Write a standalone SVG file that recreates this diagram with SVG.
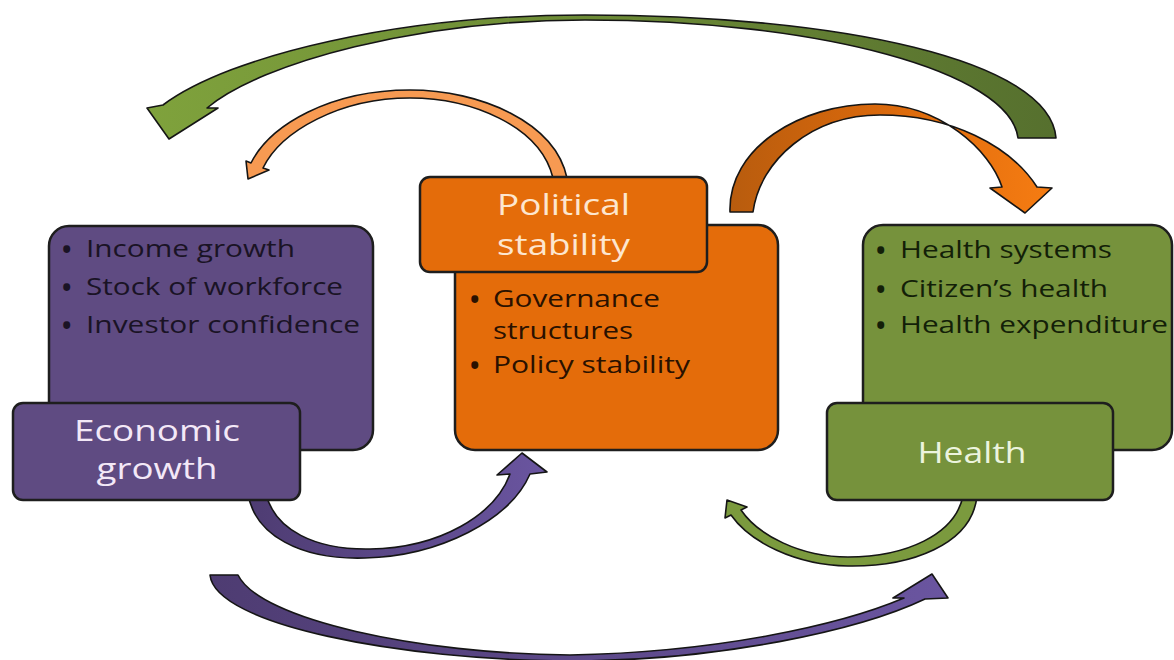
<svg xmlns="http://www.w3.org/2000/svg" width="1174" height="660" viewBox="0 0 1174 660">
  <style>
    .box { stroke: #1e1e1e; stroke-width: 2.5; }
    .purple { fill: #5f4b82; }
    .orange { fill: #e46c0a; }
    .green { fill: #76923c; }
    .arrow { stroke: #151515; stroke-width: 1.6; stroke-linejoin: round; }
    .item { font-family: "Open Sans", Lato, "Liberation Sans", sans-serif; font-size: 23px; }
    .dot { font-family: "Open Sans", Lato, "Liberation Sans", sans-serif; font-size: 25px; font-weight: bold; }
    .title { font-family: "Open Sans", Lato, "Liberation Sans", sans-serif; font-size: 30px; text-anchor: middle; }
    .dk-purple { fill: #1a1325; }
    .dk-orange { fill: #2a1100; }
    .dk-green { fill: #131f08; }
  </style>
  <defs>
    <linearGradient id="gTopGreen" x1="0" y1="0" x2="1" y2="0">
      <stop offset="0" stop-color="#7fa23c"/>
      <stop offset="0.5" stop-color="#6c8a36"/>
      <stop offset="1" stop-color="#56702e"/>
    </linearGradient>
    <linearGradient id="gDarkOrange" x1="0" y1="0" x2="1" y2="0">
      <stop offset="0" stop-color="#b85c0e"/>
      <stop offset="0.45" stop-color="#d8680c"/>
      <stop offset="1" stop-color="#f67c12"/>
    </linearGradient>
    <linearGradient id="gPurple" x1="0" y1="0" x2="1" y2="0">
      <stop offset="0" stop-color="#4e3c72"/>
      <stop offset="1" stop-color="#6a55a0"/>
    </linearGradient>
  </defs>

  <!-- connectors -->
  <g id="connectors">
    <!-- Health back to Economic growth (top sweep) -->
    <path class="arrow" fill="url(#gTopGreen)" d="M1056,138 C1050,60 840,15 585,15 C400,15 230,55 163,105 L147,108 L169,139 L218,108 L207,108 C262,62 420,20 585,20 C820,20 1010,72 1018,138 Z"/>
    <!-- Political stability to Economic growth -->
    <path class="arrow" fill="#f79a52" stroke="#6a3510" d="M567,178 C555,122 480,90 410,90 C330,90 270,125 251,163 L246,161 L248,179 L269,170 L263,168 C281,131 340,98 410,98 C470,98 540,125 553,178 Z"/>
    <!-- Political stability to Health -->
    <path class="arrow" fill="url(#gDarkOrange)" d="M730,212 C728,148 800,104 875,104 C940,104 990,150 1002,187 L990,188 L1025,213 L1052,188 L1037,187 C1010,145 950,115 880,115 C812,115 760,160 753,212 Z"/>
    <!-- Economic growth to Political stability -->
    <path class="arrow" fill="url(#gPurple)" d="M248,494 C255,535 300,560 365,558 C440,556 510,520 530,474 L547,472 L522,453 L497,475 L510,474 C495,515 440,548 370,549 C315,550 275,530 266,494 Z"/>
    <!-- Health to Political stability -->
    <path class="arrow" fill="#7b9a3e" d="M977,496 C972,545 910,567 848,566 C795,565 750,542 731,515 L725,518 L727,500 L747,507 L741,510 C758,535 800,557 848,557 C905,557 955,535 963,496 Z"/>
    <!-- Economic growth to Health (bottom sweep) -->
    <path class="arrow" fill="url(#gPurple)" d="M210,575 C215,625 400,660 570,661 C720,661 860,630 925,599 L948,598 L932,574 L893,598 L904,598 C840,625 720,652 570,655 C420,654 260,620 238,575 Z"/>
  </g>

  <!-- Economic growth -->
  <g id="economic-growth">
    <rect class="box purple" x="49" y="226" width="324" height="224" rx="20"/>
    <text class="dot dk-purple" x="62" y="258">•</text>
    <text class="item dk-purple" x="86" y="257" textLength="209" lengthAdjust="spacingAndGlyphs">Income growth</text>
    <text class="dot dk-purple" x="62" y="296">•</text>
    <text class="item dk-purple" x="86" y="295" textLength="257" lengthAdjust="spacingAndGlyphs">Stock of workforce</text>
    <text class="dot dk-purple" x="62" y="334">•</text>
    <text class="item dk-purple" x="86" y="333" textLength="274" lengthAdjust="spacingAndGlyphs">Investor confidence</text>
    <rect class="box purple" x="13" y="403" width="287" height="97" rx="10"/>
    <text class="title" fill="#f3e8f7" x="157" y="441" textLength="166" lengthAdjust="spacingAndGlyphs">Economic</text>
    <text class="title" fill="#f3e8f7" x="157" y="479" textLength="121" lengthAdjust="spacingAndGlyphs">growth</text>
  </g>

  <!-- Political stability -->
  <g id="political-stability">
    <rect class="box orange" x="455" y="225" width="323" height="225" rx="20"/>
    <rect class="box orange" x="420" y="177" width="287" height="95" rx="10"/>
    <text class="title" fill="#fde6cf" x="563.5" y="215" textLength="133" lengthAdjust="spacingAndGlyphs">Political</text>
    <text class="title" fill="#fde6cf" x="563.5" y="255" textLength="133" lengthAdjust="spacingAndGlyphs">stability</text>
    <text class="dot dk-orange" x="470" y="308">•</text>
    <text class="item dk-orange" x="493" y="307" textLength="167" lengthAdjust="spacingAndGlyphs">Governance</text>
    <text class="item dk-orange" x="493" y="339" textLength="140" lengthAdjust="spacingAndGlyphs">structures</text>
    <text class="dot dk-orange" x="470" y="374">•</text>
    <text class="item dk-orange" x="493" y="373" textLength="197" lengthAdjust="spacingAndGlyphs">Policy stability</text>
  </g>

  <!-- Health -->
  <g id="health">
    <rect class="box green" x="863" y="225" width="309" height="225" rx="20"/>
    <text class="dot dk-green" x="876" y="259">•</text>
    <text class="item dk-green" x="900" y="258" textLength="212" lengthAdjust="spacingAndGlyphs">Health systems</text>
    <text class="dot dk-green" x="876" y="298">•</text>
    <text class="item dk-green" x="900" y="297" textLength="208" lengthAdjust="spacingAndGlyphs">Citizen’s health</text>
    <text class="dot dk-green" x="876" y="334">•</text>
    <text class="item dk-green" x="900" y="333" textLength="268" lengthAdjust="spacingAndGlyphs">Health expenditure</text>
    <rect class="box green" x="827" y="403" width="286" height="97" rx="10"/>
    <text class="title" fill="#ecf4de" x="972" y="463" textLength="109" lengthAdjust="spacingAndGlyphs">Health</text>
  </g>
</svg>
